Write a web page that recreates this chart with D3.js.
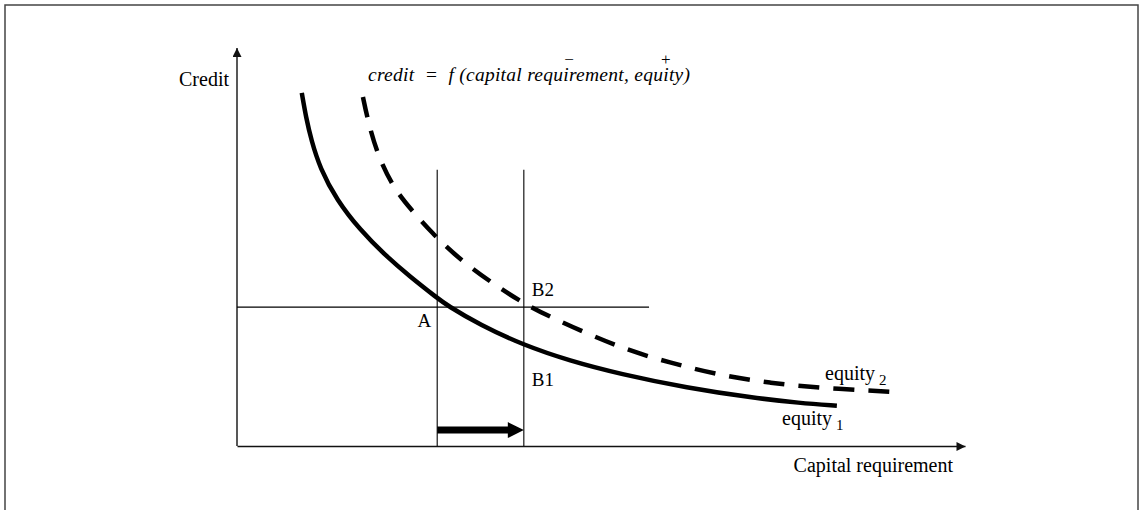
<!DOCTYPE html>
<html>
<head>
<meta charset="utf-8">
<script src="https://cdn.jsdelivr.net/npm/d3@7"></script>
<style>
  html, body { margin: 0; padding: 0; background: #fff; }
  svg { display: block; }
  text { font-family: "Liberation Serif", "DejaVu Serif", serif; fill: #000; }
</style>
</head>
<body>
<script>
// ---------- data (abstract units: capital requirement 0-100, credit 0-100) ----------
const solidX  = [8.9, 9.5, 10.2, 11.4, 13.7, 16.9, 20.3, 23.8, 27.5, 28.8, 33.4, 39.3, 45.7, 52.6, 61.8, 70.9, 77.3, 82.4];
const solidY  = [88.7, 82.4, 76.9, 69.8, 61.8, 54.3, 48.0, 42.5, 37.2, 35.4, 30.4, 25.4, 21.4, 18.1, 14.6, 12.1, 10.8, 10.1];
const dashedX = [17.3, 17.9, 19.2, 21.4, 23.8, 26.9, 30.2, 34.8, 39.3, 43.0, 52.6, 59.5, 66.3, 73.2, 80.1, 90.1];
const dashedY = [87.7, 82.4, 73.6, 65.1, 59.6, 53.3, 47.5, 41.2, 35.9, 32.4, 24.6, 20.9, 17.8, 15.8, 14.6, 13.6];
const guideX = [27.5, 39.4];       // capital requirement before / after (A and B)
const guideTop = 69.4;             // top of vertical guide lines
const guideCreditY = 34.9;         // credit level at A
const guideCreditXEnd = 56.6;      // end of horizontal guide
const shiftArrowY = 4.0;           // credit level of the shift arrow
const axisLabels = ["Credit", "Capital requirement"];
const pointLabels = ["A", "B1", "B2"];
const curveLabels = [{name: "equity", sub: "1"}, {name: "equity", sub: "2"}];
const equationText = "credit  =  f (capital requirement, equity)";
const signs = ["\u2212", "+"];

// ---------- layout ----------
const W = 1140, H = 510;
const svg = d3.select("body").append("svg").attr("width", W).attr("height", H);

svg.append("rect").attr("x", 5).attr("y", 5).attr("width", 1133).attr("height", 520)
  .attr("fill", "none").attr("stroke", "#444").attr("stroke-width", 1.5);

const x = d3.scaleLinear().domain([0, 100]).range([237, 965]);
const y = d3.scaleLinear().domain([0, 100]).range([446, 48]);

const defs = svg.append("defs");
defs.append("marker").attr("id", "axArrow").attr("viewBox", "0 0 10 10")
  .attr("refX", 10).attr("refY", 5).attr("markerWidth", 10).attr("markerHeight", 9)
  .attr("markerUnits", "userSpaceOnUse").attr("orient", "auto")
  .append("path").attr("d", "M0,0 L10,5 L0,10 Z").attr("fill", "#111");

// axes (no ticks)
const xAxis = svg.append("g").attr("transform", `translate(0,${y(0)})`)
  .call(d3.axisBottom(x).tickValues([]).tickSizeOuter(0));
xAxis.select(".domain").attr("stroke", "#111").attr("stroke-width", 1.4).attr("marker-end", "url(#axArrow)");

const yAxis = svg.append("g").attr("transform", `translate(${x(0)},0)`)
  .call(d3.axisLeft(y).tickValues([]).tickSizeOuter(0));
yAxis.select(".domain").attr("stroke", "#111").attr("stroke-width", 1.4)
  .attr("d", `M0,${y(0)}V${y(100)}`).attr("marker-end", "url(#axArrow)");

// guide lines
const thin = svg.append("g").attr("stroke", "#000").attr("stroke-width", 1.1);
guideX.forEach(g => {
  thin.append("line").attr("x1", x(g)).attr("x2", x(g)).attr("y1", y(guideTop)).attr("y2", y(0));
});
thin.append("line").attr("x1", x(0)).attr("x2", x(guideCreditXEnd))
  .attr("y1", y(guideCreditY)).attr("y2", y(guideCreditY));

// curves
const line = d3.line().x(d => x(d[0])).y(d => y(d[1])).curve(d3.curveBasis);
const solid = solidX.map((v, i) => [v, solidY[i]]);
const dashed = dashedX.map((v, i) => [v, dashedY[i]]);

svg.append("path").datum(solid).attr("d", line)
  .attr("fill", "none").attr("stroke", "#000").attr("stroke-width", 4.5);
svg.append("path").datum(dashed).attr("d", line)
  .attr("fill", "none").attr("stroke", "#000").attr("stroke-width", 4.5)
  .attr("stroke-dasharray", "21 14");

// shift arrow
const ax0 = x(guideX[0]), ax1 = x(guideX[1]), ay = y(shiftArrowY);
svg.append("path")
  .attr("d", `M${ax0},${ay - 3.5} H${ax1 - 16} V${ay - 8} L${ax1},${ay} L${ax1 - 16},${ay + 8} V${ay + 3.5} H${ax0} Z`)
  .attr("fill", "#000");

// axis labels
svg.append("text").attr("x", x(0) - 8).attr("y", 86).attr("text-anchor", "end")
  .attr("font-size", 20).text(axisLabels[0]);
svg.append("text").attr("x", 953).attr("y", 472).attr("text-anchor", "end")
  .attr("font-size", 20).text(axisLabels[1]);

// point labels
svg.append("text").attr("x", x(guideX[0]) - 6).attr("y", y(guideCreditY) + 20)
  .attr("text-anchor", "end").attr("font-size", 19).text(pointLabels[0]);
svg.append("text").attr("x", x(guideX[1]) + 8).attr("y", 386)
  .attr("font-size", 19).text(pointLabels[1]);
svg.append("text").attr("x", x(guideX[1]) + 8).attr("y", 296)
  .attr("font-size", 19).text(pointLabels[2]);

// curve labels
function curveLabel(lbl, px, py) {
  const t = svg.append("text").attr("x", px).attr("y", py).attr("font-size", 20);
  t.append("tspan").text(lbl.name);
  t.append("tspan").attr("dx", 4).attr("dy", 5).attr("font-size", 15).text(lbl.sub);
}
curveLabel(curveLabels[0], 782, 425);
curveLabel(curveLabels[1], 825, 380);

// equation
const eq = svg.append("text").attr("x", 368).attr("y", 81).attr("font-size", 19.5)
  .attr("font-style", "italic").attr("xml:space", "preserve").style("white-space", "pre")
  .attr("textLength", 322).attr("lengthAdjust", "spacing")
  .text(equationText);
const eqNode = eq.node();
function charCenter(idx) {
  const s = eqNode.getStartPositionOfChar(idx).x;
  const e = eqNode.getEndPositionOfChar(idx).x;
  return (s + e) / 2;
}
const iReq = equationText.indexOf("requirement") + 4;
const iEq = equationText.indexOf("equity") + 3;
svg.append("text").attr("x", (charCenter(iReq) + charCenter(iReq + 1)) / 2).attr("y", 65)
  .attr("text-anchor", "middle").attr("font-size", 17).text(signs[0]);
svg.append("text").attr("x", charCenter(iEq)).attr("y", 65).attr("text-anchor", "middle")
  .attr("font-size", 17).text(signs[1]);
</script>
</body>
</html>
